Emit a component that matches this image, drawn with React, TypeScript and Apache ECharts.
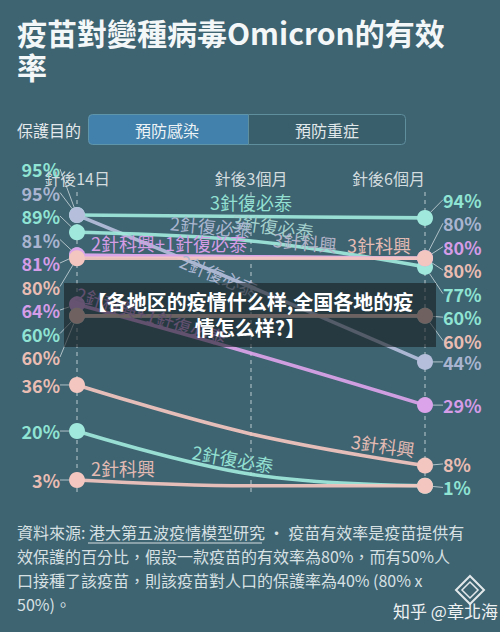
import React, { useEffect, useRef } from 'react';
import * as echarts from 'echarts';

// ---------- data ----------
const categories = ['針後14日', '針後3個月', '針後6個月'];

// protection (%) at 針後14日 / 針後3個月 / 針後6個月
const biontech3Top = [95, 94.5, 94];
const biontech2Steep = [95, 70, 44];
const biontech3Second = [89, 86, 77];
const biontech2Flat = [81, 80.5, 80];
const mixFlat = [81, 80.5, 80];
const sinovac3Flat = [80, 80, 80];
const mixDrop = [64, 47, 29];
const tealMid = [60, 60, 60];
const sinovac2Mid = [60, 60, 60];
const sinovac3Drop = [36, 19, 8];
const biontech2Drop = [20, 5, 1];
const sinovac2Low = [3, 1, 1];

const lineNames = [
  '3針復必泰', '2針復必泰', '3針復必泰', '2針復必泰', '2針科興+1針復必泰', '3針科興',
  '2針科興+1針復必泰', '3針科興', '2針科興', '3針科興', '2針復必泰', '2針科興',
];
const lineValues = [
  biontech3Top, biontech2Steep, biontech3Second, biontech2Flat, mixFlat, sinovac3Flat,
  mixDrop, tealMid, sinovac2Mid, sinovac3Drop, biontech2Drop, sinovac2Low,
];

const titleText = '疫苗對變種病毒Omicron的有效\n率';
const toggleLabel = '保護目的';
const toggleOptions = ['預防感染', '預防重症'];
const overlayText = '【各地区的疫情什么样,全国各地的疫\n情怎么样?】';
const footerText =
  '資料來源: 港大第五波疫情模型研究 • 疫苗有效率是疫苗提供有\n效保護的百分比，假設一款疫苗的有效率為80%，而有50%人\n口接種了該疫苗，則該疫苗對人口的保護率為40% (80% x\n50%)。';
const creditText = '知乎 @章北海';

// ---------- styles ----------
const FONT = '"Noto Sans CJK TC", "Noto Sans", sans-serif';
const BG = '#3e6371';

const PAL = {
  teal: { line: '#9fe8db', text: '#8fe4d3', name: '#93e0d2' },
  grey: { line: '#b5bfdb', text: '#a9b5d0', name: '#a9b5cf' },
  purple: { line: '#dba3ea', text: '#d59ce7', name: '#d39ce4' },
  peach: { line: '#f3c6bf', text: '#eabdb3', name: '#e4bbb3' },
};

type NameLabel = { dx: number; dy: number; rot: number; color?: string } | null;
const lineStyles: { pal: keyof typeof PAL; nameLabel: NameLabel; hideRight?: boolean }[] = [
  { pal: 'teal', nameLabel: { dx: 0, dy: -14, rot: 0 } },
  { pal: 'grey', nameLabel: { dx: -32, dy: -12, rot: -22 } },
  { pal: 'teal', nameLabel: { dx: 22, dy: -15, rot: -8, color: '#a3cfcc' } },
  { pal: 'grey', nameLabel: { dx: -40, dy: -31, rot: -5 } },
  { pal: 'purple', nameLabel: { dx: -82, dy: -14, rot: 0 } },
  { pal: 'peach', nameLabel: { dx: 128, dy: -13, rot: 0 } },
  { pal: 'purple', nameLabel: { dx: -100, dy: -38, rot: -17 } },
  { pal: 'teal', nameLabel: { dx: 54, dy: -74, rot: -5, color: '#b3b3c8' } },
  { pal: 'peach', nameLabel: null },
  { pal: 'peach', nameLabel: { dx: 132, dy: 11, rot: -8 } },
  { pal: 'teal', nameLabel: { dx: -18, dy: -16, rot: -10 } },
  { pal: 'peach', nameLabel: { dx: -128, dy: -18, rot: 0 }, hideRight: true },
];

function buildSeries() {
  return lineValues.map((vals, si) => {
    const st = lineStyles[si];
    const pal = PAL[st.pal];
    const data = vals.map((v, i) => {
      if (i === 1) {
        const nl = st.nameLabel;
        return {
          value: v,
          symbolSize: 0,
          label: nl
            ? {
                show: true,
                position: 'inside',
                formatter: lineNames[si],
                color: nl.color || pal.name,
                fontSize: 18,
                fontWeight: 'normal',
                fontFamily: FONT,
              }
            : { show: false },
          labelLine: { show: false },
        };
      }
      const hide = i === 2 && st.hideRight;
      return {
        value: v,
        label: {
          show: !hide,
          position: i === 0 ? 'left' : 'right',
          distance: i === 0 ? 9 : 10,
          formatter: '{c}%',
          color: pal.text,
          fontSize: 18,
          fontWeight: 'bold',
          fontFamily: FONT,
        },
        labelLine: {
          show: !hide,
          lineStyle: { color: 'rgba(215,225,228,0.75)', width: 1 },
        },
      };
    });
    return {
      type: 'line',
      name: lineNames[si],
      data,
      smooth: 0.4,
      symbol: 'circle',
      symbolSize: 16,
      showSymbol: true,
      lineStyle: { color: pal.line, width: 3.6, opacity: 0.92 },
      itemStyle: { color: pal.line },
      emphasis: { disabled: true },
      z: 2,
    };
  });
}

function spread(items: { key: string; y: number }[], spacing: number, minGap: number) {
  let clusters = items.map((it) => ({ members: [it], mean: it.y }));
  let merged = true;
  while (merged) {
    merged = false;
    for (let i = 1; i < clusters.length; i++) {
      const a = clusters[i - 1];
      const b = clusters[i];
      const aBottom = a.mean + ((a.members.length - 1) / 2) * spacing;
      const bTop = b.mean - ((b.members.length - 1) / 2) * spacing;
      if (bTop - aBottom < minGap) {
        const members = a.members.concat(b.members);
        const mean = members.reduce((s, m) => s + m.y, 0) / members.length;
        clusters.splice(i - 1, 2, { members, mean });
        merged = true;
        break;
      }
    }
  }
  const out: Record<string, number> = {};
  clusters.forEach((c) =>
    c.members.forEach((m, j) => {
      out[m.key] = c.mean + (j - (c.members.length - 1) / 2) * spacing;
    })
  );
  return out;
}

function buildOption() {
  return {
    animation: false,
    backgroundColor: BG,
    textStyle: { fontFamily: FONT },
    grid: { left: 77, right: 75, top: 192, bottom: 137.6 },
    xAxis: {
      type: 'category',
      position: 'top',
      boundaryGap: false,
      data: categories.map((c, i) =>
        i === categories.length - 1 ? { value: c, textStyle: { align: 'right' } } : c
      ),
      axisLine: { show: false },
      axisTick: { show: false },
      axisLabel: { color: '#d3dcdf', fontSize: 16, margin: 6, fontFamily: FONT },
      splitLine: { show: true, lineStyle: { color: '#93a9b0', type: [4, 4], width: 1.5 } },
    },
    yAxis: { type: 'value', min: -2, max: 103, show: false },
    series: buildSeries(),
    graphic: [
      {
        type: 'text',
        x: 17,
        y: 15,
        style: {
          text: titleText,
          fill: '#f4f7f8',
          fontSize: 30,
          fontWeight: 'bold',
          fontFamily: FONT,
          lineHeight: 34,
        },
      },
      {
        type: 'text',
        x: 17,
        y: 130,
        style: {
          text: toggleLabel,
          fill: '#e4eaec',
          fontSize: 16,
          fontFamily: FONT,
          verticalAlign: 'middle',
          textVerticalAlign: 'middle',
        },
      },
      {
        type: 'rect',
        shape: { x: 88.5, y: 114.5, width: 160, height: 30, r: [4, 0, 0, 4] },
        style: { fill: '#4181ac', stroke: '#5f95ab', lineWidth: 1 },
      },
      {
        type: 'rect',
        shape: { x: 248.5, y: 114.5, width: 157, height: 30, r: [0, 4, 4, 0] },
        style: { fill: '#3a5f6c', stroke: '#5f8e9d', lineWidth: 1 },
      },
      {
        type: 'text',
        x: 167,
        y: 130,
        style: {
          text: toggleOptions[0],
          fill: '#eef3f6',
          fontSize: 16,
          fontFamily: FONT,
          align: 'center',
          textAlign: 'center',
          verticalAlign: 'middle',
          textVerticalAlign: 'middle',
        },
      },
      {
        type: 'text',
        x: 327,
        y: 130,
        style: {
          text: toggleOptions[1],
          fill: '#e2e9eb',
          fontSize: 16,
          fontFamily: FONT,
          align: 'center',
          textAlign: 'center',
          verticalAlign: 'middle',
          textVerticalAlign: 'middle',
        },
      },
      {
        type: 'rect',
        z: 100,
        shape: { x: 64, y: 283, width: 372, height: 64 },
        style: { fill: 'rgba(24,30,34,0.6)' },
      },
      {
        type: 'text',
        z: 101,
        x: 250,
        y: 314,
        style: {
          text: overlayText,
          fill: '#ffffff',
          fontSize: 20,
          fontWeight: 'bold',
          fontFamily: '"Noto Sans CJK SC", "Noto Sans", sans-serif',
          lineHeight: 26,
          align: 'center',
          textAlign: 'center',
          verticalAlign: 'middle',
          textVerticalAlign: 'middle',
        },
      },
      {
        type: 'text',
        x: 17,
        y: 520,
        style: {
          text: footerText,
          fill: '#d7e0e3',
          fontSize: 16,
          fontFamily: FONT,
          lineHeight: 24,
        },
      },
      {
        type: 'line',
        shape: { x1: 88, y1: 543, x2: 262, y2: 543 },
        style: { stroke: '#d7e0e3', lineWidth: 1 },
      },
      {
        type: 'polygon',
        shape: { points: [[470, 576], [484, 590], [470, 604], [456, 590]] },
        style: { fill: 'none', stroke: '#e3e9eb', lineWidth: 2 },
      },
      {
        type: 'polygon',
        shape: { points: [[470, 582], [478, 590], [470, 598], [462, 590]] },
        style: { fill: 'none', stroke: '#e3e9eb', lineWidth: 1.5 },
      },
      {
        type: 'text',
        x: 393,
        y: 610,
        style: {
          text: creditText,
          fill: '#eef2f3',
          fontSize: 17,
          fontFamily: FONT,
          verticalAlign: 'middle',
          textVerticalAlign: 'middle',
        },
      },
    ],
  };
}

export default function App() {
  const ref = useRef<HTMLDivElement>(null);
  useEffect(() => {
    document.body.style.margin = '0';
    const chart = echarts.init(ref.current as HTMLDivElement, null, { renderer: 'svg' });
    chart.setOption(buildOption() as any);

    // value labels: spread vertically per column; name labels: placed relative to mid point
    const targets: Record<string, any> = {};
    [0, 2].forEach((di) => {
      const items: { key: string; y: number; si: number }[] = [];
      lineValues.forEach((vals, si) => {
        if (di === 2 && lineStyles[si].hideRight) return;
        const p = chart.convertToPixel({ gridIndex: 0 }, [di, vals[di]]) as number[];
        items.push({ key: `${si}-${di}`, y: p[1], si });
      });
      items.sort((a, b) => a.y - b.y || a.si - b.si);
      const ys = spread(items, 23.5, 21);
      Object.keys(ys).forEach((k) => {
        targets[k] = {
          y: ys[k],
          align: di === 0 ? 'right' : 'left',
          verticalAlign: 'middle',
        };
      });
    });
    lineValues.forEach((vals, si) => {
      const nl = lineStyles[si].nameLabel;
      if (!nl) return;
      const p = chart.convertToPixel({ gridIndex: 0 }, [1, vals[1]]) as number[];
      targets[`${si}-1`] = {
        x: p[0] + nl.dx,
        y: p[1] + nl.dy,
        rotate: nl.rot,
        align: 'center',
        verticalAlign: 'middle',
      };
    });
    chart.setOption({
      series: lineValues.map(() => ({
        labelLayout: (p: any) => targets[`${p.seriesIndex}-${p.dataIndex}`] || {},
      })),
    } as any);

    return () => chart.dispose();
  }, []);
  return <div ref={ref} style={{ position: 'fixed', left: 0, top: 0, width: 500, height: 632 }} />;
}
